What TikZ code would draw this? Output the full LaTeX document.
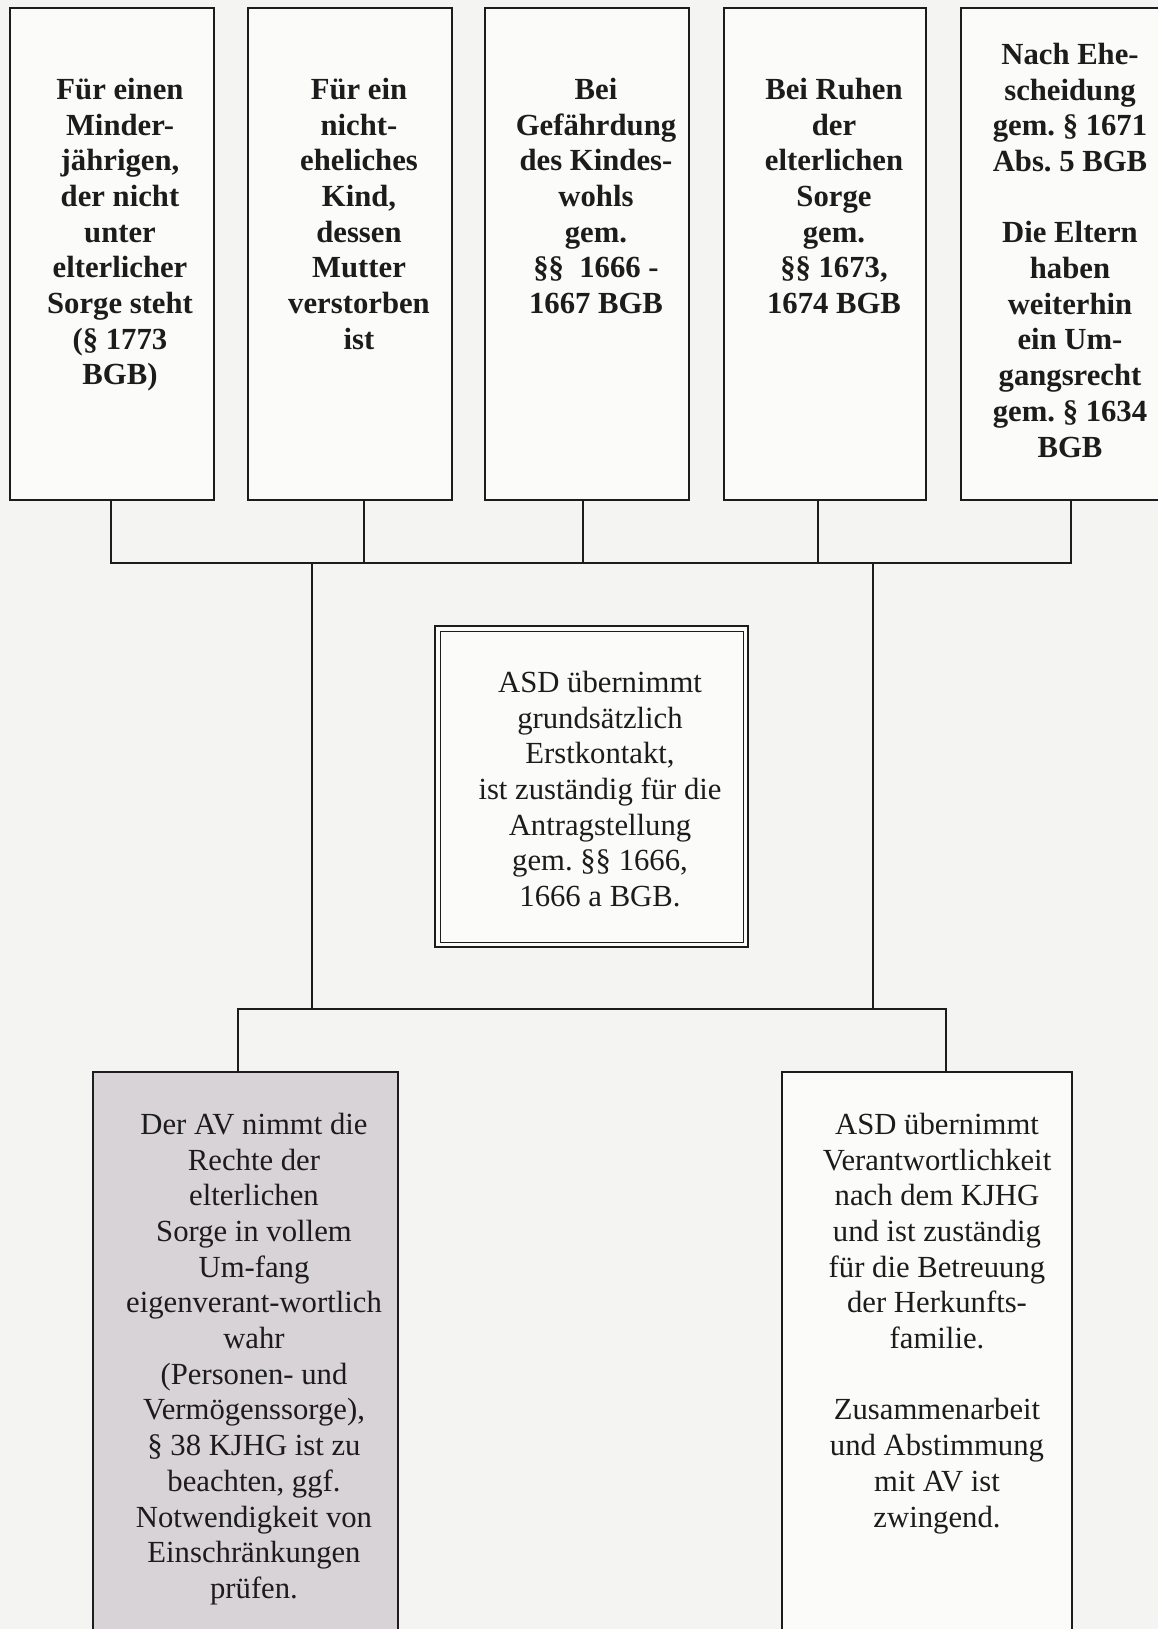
\documentclass[tikz,border=0pt]{standalone}
\usepackage{fontspec}
\setmainfont{Liberation Serif}
\frenchspacing
\definecolor{bgcol}{RGB}{244,244,242}
\definecolor{inkcol}{RGB}{28,28,28}
\definecolor{avfill}{RGB}{216,211,214}
\tikzset{
  every picture/.style={x=1pt,y=-1pt},
  frame/.style={draw=inkcol,line width=2pt,rectangle,inner sep=0pt,outer sep=0pt},
  topbox/.style={frame,fill=white!60!bgcol,minimum height=492pt},
  txt/.style={inner sep=0pt,outer sep=0pt,align=center,text=inkcol,anchor=north,
    font=\fontsize{30.7}{35.7}\selectfont},
  btxt/.style={txt,font=\fontsize{30.7}{35.7}\selectfont\bfseries},
  wire/.style={draw=inkcol,line width=2pt,line join=miter}
}
\begin{document}
\begin{tikzpicture}
\useasboundingbox (0,0) rectangle (1158,1629);
\clip (0,0) rectangle (1158,1629);
\fill[bgcol] (0,0) rectangle (1158,1629);

% top boxes
\node[topbox,minimum width=204pt] (b1) at (112,254) {};
\node[topbox,minimum width=204pt] (b2) at (350,254) {};
\node[topbox,minimum width=204pt] (b3) at (587,254) {};
\node[topbox,minimum width=202pt] (b4) at (825,254) {};
\node[topbox,minimum width=204pt] (b5) at (1063,254) {};

\node[btxt] (t1) at (120,78) {Für einen\\Minder-\\jährigen,\\der nicht\\unter\\elterlicher\\Sorge steht\\(§ 1773\\BGB)};
\node[btxt] (t2) at (359,78) {Für ein\\nicht-\\eheliches\\Kind,\\dessen\\Mutter\\verstorben\\ist};
\node[btxt] (t3) at (596,78) {Bei\\Gefährdung\\des Kindes-\\wohls\\gem.\\§§~~1666 -\\1667 BGB};
\node[btxt] (t4) at (834,78) {Bei Ruhen\\der\\elterlichen\\Sorge\\gem.\\§§ 1673,\\1674 BGB};
\node[btxt] (t5) at (1070,43) {Nach Ehe-\\scheidung\\gem. § 1671\\Abs. 5 BGB\\[35.7pt]Die Eltern\\haben\\weiterhin\\ein Um-\\gangsrecht\\gem. § 1634\\BGB};

% middle box (double frame)
\node[frame,fill=white!60!bgcol,minimum width=313pt,minimum height=321pt] (mid) at (591.5,786.5) {};
\draw[draw=inkcol,line width=1pt] ([shift={(5,5)}]mid.north west) rectangle ([shift={(-5,-5)}]mid.south east);
\node[txt] (mt) at (600,671) {ASD übernimmt\\grundsätzlich\\Erstkontakt,\\ist zuständig für die\\Antragstellung\\gem. §§ 1666,\\1666 a BGB.};

% bottom boxes
\node[frame,fill=avfill,minimum width=305pt,minimum height=588pt] (bl) at (245.5,1366) {};
\node[frame,fill=white!60!bgcol,minimum width=290pt,minimum height=588pt] (br) at (927,1366) {};
\node[txt] (blt) at (254,1113) {Der AV nimmt die\\Rechte der\\elterlichen\\Sorge in vollem\\Um-fang\\eigenverant-wortlich\\wahr\\(Personen- und\\Vermögenssorge),\\§ 38 KJHG ist zu\\beachten, ggf.\\Notwendigkeit von\\Einschränkungen\\prüfen.};
\node[txt] (brt) at (937,1113) {ASD übernimmt\\Verantwortlichkeit\\nach dem KJHG\\und ist zuständig\\für die Betreuung\\der Herkunfts-\\familie.\\[35.7pt]Zusammenarbeit\\und Abstimmung\\mit AV ist\\zwingend.};

% connector coordinates
\coordinate (j1) at (111,563);
\coordinate (j2) at (364,563);
\coordinate (j3) at (583,563);
\coordinate (j4) at (818,563);
\coordinate (j5) at (1071,563);
\coordinate (k1) at (312,563);
\coordinate (k2) at (873,563);
\coordinate (m1) at (312,1009);
\coordinate (m2) at (873,1009);
\coordinate (l1) at (238,1009);
\coordinate (l2) at (946,1009);

% top bus
\draw[wire] (j1 |- b1.south) -- (j1) -- (j5) -- (j5 |- b5.south);
\draw[wire] (j2 |- b2.south) -- (j2);
\draw[wire] (j3 |- b3.south) -- (j3);
\draw[wire] (j4 |- b4.south) -- (j4);
% drops to lower bus
\draw[wire] (k1) -- (m1);
\draw[wire] (k2) -- (m2);
% lower bus
\draw[wire] (l1 |- bl.north) -- (l1) -- (l2) -- (l2 |- br.north);
\end{tikzpicture}
\end{document}
